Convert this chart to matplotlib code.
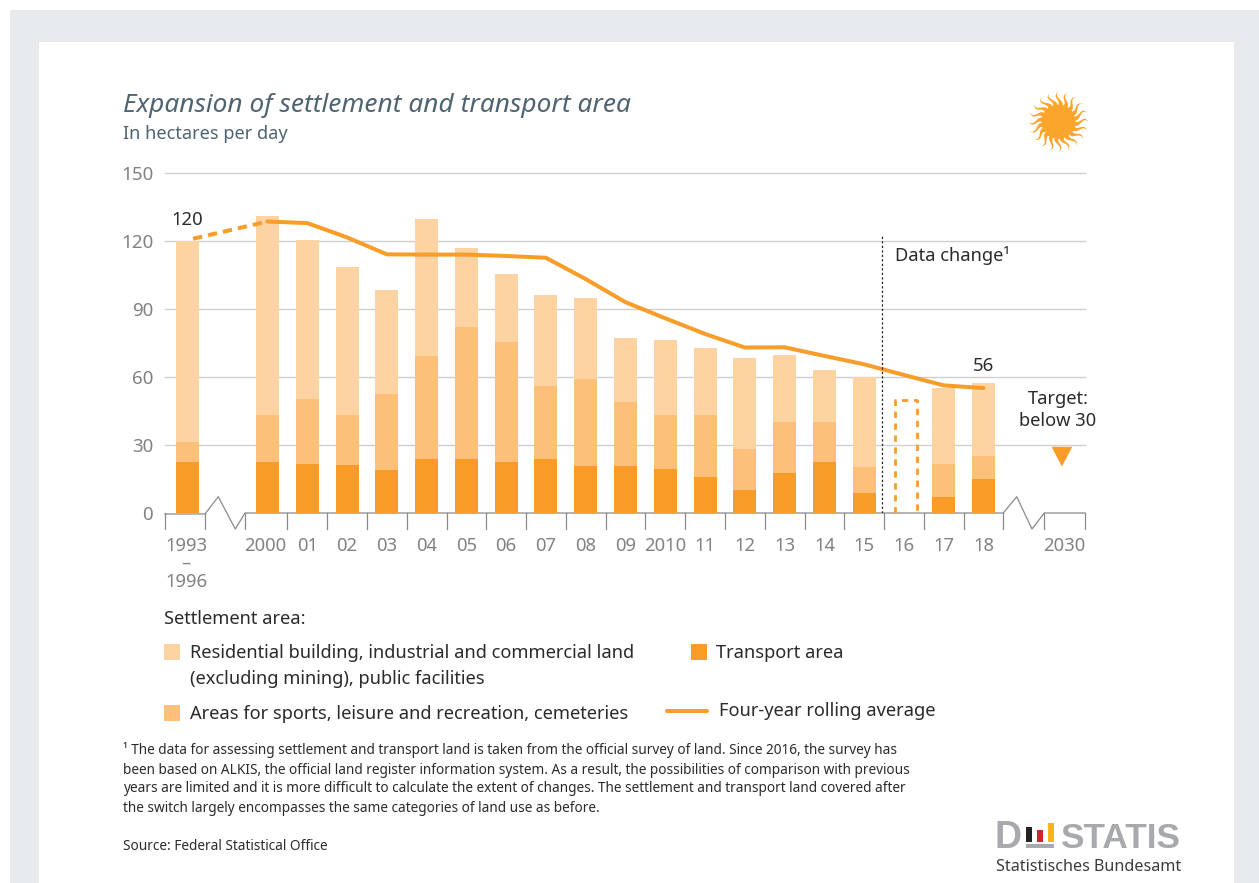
#!/usr/bin/env python3
"""Expansion of settlement and transport area, hectares per day."""

import matplotlib

matplotlib.use("Agg")

import matplotlib.pyplot as plt
import numpy as np
from matplotlib.patches import Polygon, Rectangle

plt.rcParams["font.family"] = ["Noto Sans", "DejaVu Sans"]

# x index of each period: 2000 is 0, 2018 is 18
positions = [-2] + list(range(0, 16)) + [17, 18]
tick_labels = ["1993\n–\n1996", "2000", "01", "02", "03", "04", "05", "06", "07",
               "08", "09", "2010", "11", "12", "13", "14", "15", "17", "18"]

transport = [22.7, 22.6, 21.7, 21.3, 19.1, 23.9, 23.9, 22.6, 23.9, 20.9, 20.9,
             19.5, 16.0, 10.3, 17.8, 22.6, 9.0, 7.2, 15.1]
# upper edge of the stacked bands
sports_top = [31.5, 43.3, 50.4, 43.3, 52.6, 69.3, 82.0, 75.5, 56.0, 59.2, 49.1,
              43.3, 43.3, 28.3, 40.2, 40.2, 20.4, 21.7, 25.3]
residential_top = [120.0, 131.0, 120.4, 108.5, 98.4, 129.7, 116.9, 105.4, 96.2,
                   94.9, 77.2, 76.4, 72.8, 68.4, 69.8, 63.1, 60.1, 55.2, 57.4]

avg_years = list(range(0, 19))
avg_values = [128.6, 127.9, 121.6, 114.1, 114.0, 114.0, 113.4, 112.6, 103.2, 93.0,
              85.9, 79.0, 73.0, 73.1, 69.3, 65.6, 60.9, 56.3, 55.1]
avg_start = 121.0
gap_2016 = 50.0
target_2030 = 30

ORANGE = "#f99c27"
MID = "#fcc07b"
LIGHT = "#fdd3a2"
LINE = "#f99d2a"
GREY_TEXT = "#808285"
DARK = "#2b2b2b"
SLATE = "#4f6470"
AXIS = "#8a8a8a"

W, H = 1259, 883
fig = plt.figure(figsize=(W / 100, H / 100), dpi=100, facecolor="white")

# page layer, in pixels of the picture
page = fig.add_axes([0, 0, 1, 1], zorder=0)
page.set_xlim(0, W)
page.set_ylim(H, 0)
page.axis("off")
page.add_patch(Rectangle((10, 10), W - 10, H - 10, fc="#e7ebee", ec="none"))
page.add_patch(Rectangle((39, 42), 1195, H - 42, fc="white", ec="none"))

page.text(123, 106, "Expansion of settlement and transport area", fontsize=18.9,
          style="italic", color=SLATE, va="center")
page.text(123, 134, "In hectares per day", fontsize=13.05, color=SLATE, va="center")

# sun
theta = np.linspace(0, 2 * np.pi, 80)
page.fill(1058.5 + 17 * np.cos(theta), 121.7 + 17 * np.sin(theta), color="#fba52c", lw=0)
for a in np.linspace(0, 2 * np.pi, 20, endpoint=False):
    t = np.linspace(0, 1, 20)
    r = 14 + 16.5 * t
    wave = 2.2 * np.sin(t * 2 * np.pi)
    half = 2.6 * (1 - t)
    side1 = np.column_stack([r, wave + half])
    side2 = np.column_stack([r, wave - half])[::-1]
    pts = np.vstack([side1, side2])
    rx = pts[:, 0] * np.cos(a) - pts[:, 1] * np.sin(a) + 1058.5
    ry = pts[:, 0] * np.sin(a) + pts[:, 1] * np.cos(a) + 121.7
    page.add_patch(Polygon(np.column_stack([rx, ry]), fc="#fba52c", ec="none"))

# broken x axis
page.plot([165, 205, 218.3, 235.3, 245, 1003.3, 1016.7, 1032, 1044.3, 1085],
          [514, 514, 496.7, 529, 513, 513, 496.7, 529, 513, 513],
          color=AXIS, lw=0.9, zorder=5)
tick_px = [165, 205, 245, 1003.3, 1044.3, 1085] + [267.5 + 39.78 * (i + 0.5) for i in range(0, 18)]
for x in tick_px:
    page.plot([x, x], [513, 529], color=AXIS, lw=0.9, zorder=5)

# legend
LEG = 13.15
page.text(164, 619, "Settlement area:", fontsize=LEG, color=DARK, va="center")
page.add_patch(Rectangle((164, 644), 16, 16, fc=LIGHT, ec="none"))
page.text(190, 653, "Residential building, industrial and commercial land", fontsize=LEG,
          color=DARK, va="center")
page.text(190, 679, "(excluding mining), public facilities", fontsize=LEG, color=DARK, va="center")
page.add_patch(Rectangle((164, 705), 16, 16, fc=MID, ec="none"))
page.text(190, 714, "Areas for sports, leisure and recreation, cemeteries", fontsize=LEG,
          color=DARK, va="center")
page.add_patch(Rectangle((691, 644), 16, 16, fc=ORANGE, ec="none"))
page.text(716, 653, "Transport area", fontsize=LEG, color=DARK, va="center")
page.plot([667, 707], [711, 711], color=LINE, lw=2.9, solid_capstyle="round")
page.text(719, 711, "Four-year rolling average", fontsize=LEG, color=DARK, va="center")

# footnote
note = [
    "¹ The data for assessing settlement and transport land is taken from the official survey of land. Since 2016, the survey has",
    "been based on ALKIS, the official land register information system. As a result, the possibilities of comparison with previous",
    "years are limited and it is more difficult to calculate the extent of changes. The settlement and transport land covered after",
    "the switch largely encompasses the same categories of land use as before.",
]
for y, line in zip([750, 771, 789, 809], note):
    page.text(123, y, line, fontsize=9.8, color=DARK, va="center")
page.text(123, 847, "Source: Federal Statistical Office", fontsize=9.8, color=DARK, va="center")

# logo
page.text(995, 838, "D", fontsize=27, weight="bold", color="#a7a9ac", va="center",
          family="Liberation Sans")
page.text(1060, 838, "STATIS", fontsize=25.4, weight="bold", color="#a7a9ac", va="center",
          family="Liberation Sans")
page.add_patch(Rectangle((1025.7, 826.7), 6, 15, fc="#222222", ec="none"))
page.add_patch(Rectangle((1036.7, 829.5), 6, 12.2, fc="#d2232a", ec="none"))
page.add_patch(Rectangle((1048, 823), 6, 18.7, fc="#f6b717", ec="none"))
page.add_patch(Rectangle((1025.7, 843.5), 28.3, 4.5, fc="#a7a9ac", ec="none"))
page.text(996, 867, "Statistisches Bundesamt", fontsize=11.6, color="#3c3c3c", va="center")

# chart layer
ax = fig.add_axes([165 / W, (H - 513) / H, (1085 - 165) / W, 340 / H], zorder=1)
ax.patch.set_alpha(0)
ax.set_xlim((165 - 267.5) / 39.78, (1085 - 267.5) / 39.78)
ax.set_ylim(0, 150)
for spine in ax.spines.values():
    spine.set_visible(False)

ax.set_yticks([0, 30, 60, 90, 120, 150])
ax.yaxis.grid(True, color="#cfcfcf", lw=1.0)
for gl in ax.get_ygridlines():
    gl.set_clip_on(False)
ax.get_ygridlines()[0].set_visible(False)
ax.set_axisbelow(True)
ax.tick_params(axis="y", length=0, pad=8.5, labelsize=13.5, labelcolor=GREY_TEXT)

label_x = [p - 0.05 if p in (-2, 0) else p for p in positions]
ax.set_xticks(label_x + [16, 20.04])
ax.set_xticklabels(tick_labels + ["16", "2030"], linespacing=1.03)
ax.tick_params(axis="x", length=0, pad=17, labelsize=13.3, labelcolor=GREY_TEXT)

x = np.array(positions)
t = np.array(transport)
s = np.array(sports_top)
r = np.array(residential_top)
width = 0.578
ax.bar(x, t, width, color=ORANGE, lw=0)
ax.bar(x, s - t, width, bottom=t, color=MID, lw=0)
ax.bar(x, r - s, width, bottom=s, color=LIGHT, lw=0)

# 2016: no comparable split, dashed outline only
ax.plot([16.04 - 0.277, 16.04 - 0.277, 16.04 + 0.277, 16.04 + 0.277],
        [0, gap_2016, gap_2016, 0], color=LINE, lw=2.0, ls=(0, (2.3, 2.0)))

ax.plot(avg_years, avg_values, color=LINE, lw=2.9, solid_joinstyle="round",
        solid_capstyle="round", zorder=4)
ax.plot([-1.87, avg_years[0]], [avg_start, avg_values[0]], color=LINE, lw=2.9,
        ls=(0, (2.3, 1.5)), zorder=4)

ax.plot([15.46, 15.46], [0, 122.5], color="#222222", lw=0.9, ls=(0, (1.8, 1.8)), zorder=4)
ax.text(15.77, 113.6, "Data change¹", fontsize=13.15, color=DARK, va="center")

ax.text(-2.03, 129.2, "120", fontsize=13.3, color=DARK, ha="center", va="center")
ax.text(18, 64.9, "56", fontsize=13.3, color=DARK, ha="center", va="center")
ax.text(19.88, 50.1, "Target:", fontsize=13.15, color=DARK, ha="center", va="center")
ax.text(19.86, 40.4, "below 30", fontsize=13.15, color=DARK, ha="center", va="center")

ax.fill([19.97 - 0.26, 19.97 + 0.26, 19.97],
        [target_2030 - 0.8, target_2030 - 0.8, target_2030 - 9.5], color=ORANGE, lw=0)

fig.savefig("out.png", dpi=100)
